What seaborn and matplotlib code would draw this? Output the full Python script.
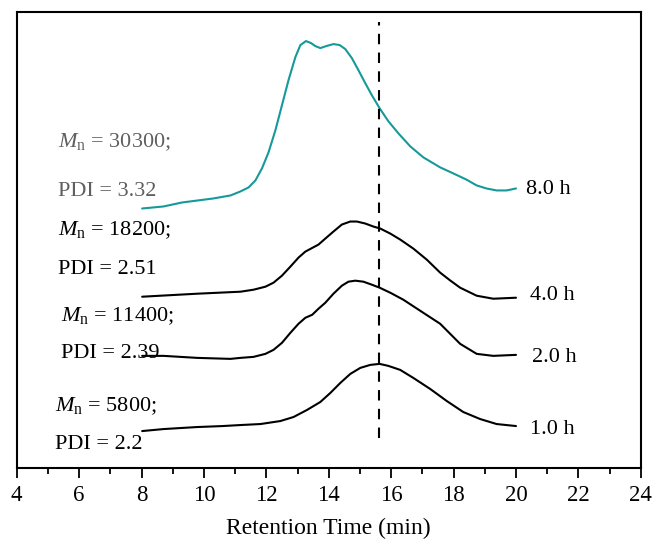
import numpy as np
import pandas as pd
import seaborn as sns
import matplotlib.pyplot as plt

# GPC traces (retention time in min, detector signal in arbitrary units, already offset)
t_8h = [8.02, 8.70, 9.30, 10.30, 10.85, 11.17, 11.43, 11.65, 11.86, 12.07, 12.29, 12.50, 12.71,
        12.93, 13.09, 13.27, 13.43, 13.57, 13.73, 13.92, 14.15, 14.35, 14.53, 14.74, 14.95,
        15.17, 15.38, 15.63, 15.91, 16.23, 16.61, 17.03, 17.57, 17.99, 18.40, 18.74, 19.05,
        19.38, 19.70, 20.0]
s_8h = [259, 261, 265, 269, 272, 276, 280, 287, 299, 315, 337, 362, 387,
        410, 422, 426, 424, 421, 419, 421, 423, 422, 418, 409, 397,
        384, 372, 359, 346, 334, 321, 310, 300, 294, 288, 282, 279,
        277, 277, 279]

t_4h = [8.02, 9.78, 11.17, 11.59, 11.97, 12.23, 12.50, 12.77, 13.03, 13.25, 13.43, 13.67,
        13.89, 14.15, 14.42, 14.69, 14.90, 15.17, 15.43, 15.65, 15.97, 16.29, 16.71, 17.14,
        17.57, 17.90, 18.21, 18.74, 19.27, 20.0]
s_4h = [171, 174, 176, 178, 181, 185, 192, 201, 210, 216, 219, 223,
        229, 236, 243, 246, 246, 244, 241, 239, 234, 228, 219, 208,
        195, 187, 180, 172, 169, 170]

t_2h = [8.02, 8.71, 9.78, 10.85, 11.17, 11.59, 11.97, 12.23, 12.50, 12.77, 13.03, 13.25,
        13.47, 13.67, 13.89, 14.15, 14.42, 14.63, 14.85, 15.11, 15.38, 15.63, 15.97, 16.39,
        16.93, 17.57, 18.21, 18.74, 19.27, 20.0]
s_2h = [112, 112, 110, 109, 110, 111, 114, 118, 125, 135, 144, 150,
        153, 159, 165, 174, 182, 186, 187, 186, 183, 180, 175, 168,
        157, 144, 124, 114, 112, 113]

t_1h = [8.02, 8.71, 9.78, 10.60, 11.17, 11.81, 12.45, 12.87, 13.30, 13.73, 14.05, 14.37,
        14.69, 15.01, 15.33, 15.63, 15.91, 16.29, 16.71, 17.25, 17.78, 18.31, 18.85, 19.38,
        20.0]
s_1h = [37, 39, 41, 42, 43, 44, 47, 51, 58, 66, 75, 85,
        94, 100, 103, 104, 102, 98, 90, 79, 67, 56, 49, 44,
        42]

samples = ['8.0 h', '4.0 h', '2.0 h', '1.0 h']
mn_labels = [r'$M_{\rm n}$ = 30300;', r'$M_{\rm n}$ = 18200;', r'$M_{\rm n}$ = 11400;', r'$M_{\rm n}$ = 5800;']
pdi_labels = ['PDI = 3.32', 'PDI = 2.51', 'PDI = 2.39', 'PDI = 2.2']
peak_line = 15.62

df = pd.concat([
    pd.DataFrame({'time': t_8h, 'signal': s_8h, 'sample': '8.0 h'}),
    pd.DataFrame({'time': t_4h, 'signal': s_4h, 'sample': '4.0 h'}),
    pd.DataFrame({'time': t_2h, 'signal': s_2h, 'sample': '2.0 h'}),
    pd.DataFrame({'time': t_1h, 'signal': s_1h, 'sample': '1.0 h'}),
])

sns.set_style('ticks')
plt.rcParams['font.family'] = ['Liberation Serif', 'DejaVu Serif']
plt.rcParams['mathtext.fontset'] = 'custom'
plt.rcParams['mathtext.rm'] = 'Liberation Serif'
plt.rcParams['mathtext.it'] = 'Liberation Serif:italic'
plt.rcParams['text.color'] = 'black'
plt.rcParams['axes.labelcolor'] = 'black'
plt.rcParams['axes.edgecolor'] = 'black'
plt.rcParams['xtick.color'] = 'black'

fig = plt.figure(figsize=(6.57, 5.45), dpi=100)
ax = fig.add_axes([0.0254, 0.141, 0.950, 0.837])

teal = '#17999a'
palette = {'8.0 h': teal, '4.0 h': 'black', '2.0 h': 'black', '1.0 h': 'black'}
sns.lineplot(data=df, x='time', y='signal', hue='sample', palette=palette, sort=False,
             estimator=None, legend=False, linewidth=1.5, ax=ax)

ax.vlines(peak_line, 30, 445, colors='black', linestyles=(0, (5, 4)), linewidth=1.5)

# left annotations
txt_x = [5.31, 5.31, 5.41, 5.22]
mn_y = [320, 232, 147, 57]
pdi_y = [271, 194, 110, 19]
txt_col = ['#5f5f5f', 'black', 'black', 'black']
for i in range(4):
    ax.text(txt_x[i], mn_y[i], mn_labels[i], fontsize=16, color=txt_col[i], va='baseline')
    ax.text(txt_x[i], pdi_y[i], pdi_labels[i], fontsize=16, color=txt_col[i], va='baseline')

# right labels
lab_x = [20.33, 20.45, 20.5, 20.45]
lab_y = [273, 168, 106, 34]
for i, s in enumerate(samples):
    ax.text(lab_x[i], lab_y[i], s, fontsize=16, color='black', va='baseline')

ax.set_xlim(4, 24)
ax.set_ylim(0, 455)
ax.set_xticks(np.arange(4, 25, 2))
ax.set_xticks(np.arange(5, 24, 2), minor=True)
ax.set_yticks([])
ax.tick_params(axis='x', which='major', length=7, width=1.3, labelsize=16.5, direction='out', pad=5)
ax.tick_params(axis='x', which='minor', length=4, width=1.3, direction='out')
for sp in ax.spines.values():
    sp.set_linewidth(1.5)
    sp.set_visible(True)
ax.set_xlabel('Retention Time (min)', fontsize=17, labelpad=9)
ax.set_ylabel('')

fig.savefig('out.png', dpi=100)
